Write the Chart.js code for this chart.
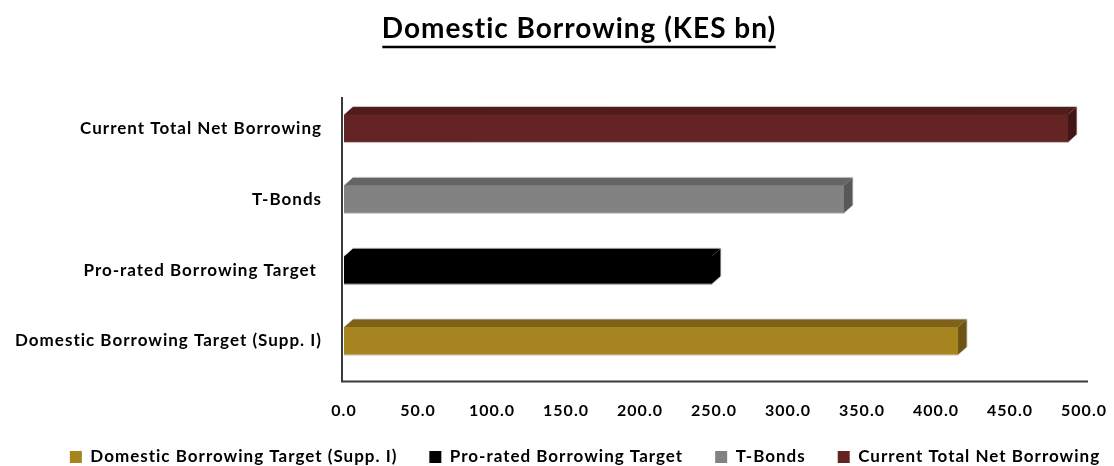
<!DOCTYPE html>
<html>
<head>
<meta charset="utf-8">
<script src="https://cdn.jsdelivr.net/npm/chart.js@4.4.1/dist/chart.umd.min.js"></script>
<style>
  html, body { margin: 0; padding: 0; background: #fff; }
  #wrap { width: 1114px; height: 466px; }
</style>
</head>
<body>
<div id="wrap"><canvas id="borrowChart" width="1114" height="466"></canvas></div>
<script>
/******************** DATA ******************/
const categories = [
  'Current Total Net Borrowing',
  'T-Bonds',
  'Pro-rated Borrowing Target ',
  'Domestic Borrowing Target (Supp. I)'
];
const seriesNames = [
  'Domestic Borrowing Target (Supp. I)',
  'Pro-rated Borrowing Target',
  'T-Bonds',
  'Current Total Net Borrowing'
];
const domesticTarget = [null, null, null, 414.9];
const proRatedTarget = [null, null, 248.6, null];
const tBonds = [null, 337.8, null, null];
const currentNet = [489.2, null, null, null];
const xTicks = [0, 50, 100, 150, 200, 250, 300, 350, 400, 450, 500];

/******************** STYLE ******************/
const FONT = 'Lato, Carlito, Calibri, sans-serif';
const TITLE_SIZE = 28;
const colors = {
  front: ['#a6841f', '#000000', '#828282', '#652424'],
  top:   ['#7f6219', '#000000', '#646464', '#511c1c'],
  side:  ['#6e5414', '#000000', '#585858', '#421616']
};
const DEPTH_X = 9;
const DEPTH_Y = 8;

/************** LETTER SPACING (Excel-like text) ***************/
const spacing = {
  id: 'spacing',
  beforeUpdate(chart) { chart.ctx.letterSpacing = '1px'; },
  beforeDraw(chart) { chart.ctx.letterSpacing = '1px'; }
};

/************** SHIFT TITLE + LEGEND ***************/
const shiftBoxes = {
  id: 'shiftBoxes',
  afterLayout(chart) {
    const t = chart.titleBlock;
    if (t) { t.left += 22; t.right += 22; }
    const l = chart.legend;
    if (l) {
      l.left += 28; l.right += 28;
      l.top -= 4; l.bottom -= 4;
    }
  }
};

/************** 3D BAR PLUGIN ***************/
const bar3d = {
  id: 'bar3d',
  afterDatasetsDraw(chart) {
    const ctx = chart.ctx;
    chart.data.datasets.forEach((ds, i) => {
      const meta = chart.getDatasetMeta(i);
      meta.data.forEach((bar, j) => {
        if (ds.data[j] == null) return;
        const p = bar.getProps(['x', 'y', 'base', 'height'], true);
        const x0 = p.base, x1 = p.x;
        const yTop = p.y - p.height / 2, yBot = p.y + p.height / 2;
        ctx.save();
        // top face
        ctx.fillStyle = colors.top[i];
        ctx.beginPath();
        ctx.moveTo(x0, yTop);
        ctx.lineTo(x0 + DEPTH_X, yTop - DEPTH_Y);
        ctx.lineTo(x1 + DEPTH_X, yTop - DEPTH_Y);
        ctx.lineTo(x1, yTop);
        ctx.closePath();
        ctx.fill();
        // side face
        ctx.fillStyle = colors.side[i];
        ctx.beginPath();
        ctx.moveTo(x1, yTop);
        ctx.lineTo(x1 + DEPTH_X, yTop - DEPTH_Y);
        ctx.lineTo(x1 + DEPTH_X, yBot - DEPTH_Y);
        ctx.lineTo(x1, yBot);
        ctx.closePath();
        ctx.fill();
        // light edges
        ctx.strokeStyle = 'rgba(215,215,215,0.85)';
        ctx.lineWidth = 1;
        ctx.beginPath();
        ctx.moveTo(x0, yTop);
        ctx.lineTo(x0 + DEPTH_X, yTop - DEPTH_Y);
        ctx.lineTo(x1 + DEPTH_X, yTop - DEPTH_Y);
        ctx.lineTo(x1 + DEPTH_X, yBot - DEPTH_Y);
        ctx.lineTo(x1, yBot);
        ctx.lineTo(x0, yBot);
        ctx.stroke();
        ctx.restore();
      });
    });
  }
};

/************** AXES + TITLE UNDERLINE ***************/
const decorations = {
  id: 'decorations',
  afterDraw(chart) {
    const ctx = chart.ctx;
    const a = chart.chartArea;
    ctx.save();
    ctx.strokeStyle = '#3a3a3a';
    ctx.lineWidth = 2;
    ctx.beginPath();
    ctx.moveTo(a.left - 2, a.top + 4);
    ctx.lineTo(a.left - 2, a.bottom + 5);
    ctx.lineTo(a.right + 4, a.bottom + 5);
    ctx.stroke();

    // underline for the title
    const t = chart.titleBlock;
    if (t) {
      ctx.letterSpacing = '1px';
      ctx.font = 'bold ' + TITLE_SIZE + 'px ' + FONT;
      const w = ctx.measureText(chart.options.plugins.title.text).width - 1;
      const cx = (t.left + t.right) / 2;
      const y = t.top + t.options.padding.top + 35;
      ctx.lineWidth = 2.5;
      ctx.strokeStyle = '#000';
      ctx.beginPath();
      ctx.moveTo(cx - w / 2, y);
      ctx.lineTo(cx + w / 2, y);
      ctx.stroke();
    }
    ctx.restore();
  }
};

/******************** CHART ******************/
const datasetValues = [domesticTarget, proRatedTarget, tBonds, currentNet];

new Chart(document.getElementById('borrowChart'), {
  type: 'bar',
  data: {
    labels: categories,
    datasets: seriesNames.map((name, i) => ({
      label: name,
      data: datasetValues[i],
      backgroundColor: colors.front[i],
      borderWidth: 0,
      barThickness: 28,
      grouped: false
    }))
  },
  options: {
    indexAxis: 'y',
    responsive: false,
    animation: false,
    layout: { padding: { left: 0, right: 0, top: 0, bottom: -13.4 } },
    plugins: {
      title: {
        display: true,
        text: 'Domestic Borrowing (KES bn)',
        color: '#000',
        font: { family: FONT, size: TITLE_SIZE, weight: 'bold' },
        padding: { top: 12, bottom: 47.4 }
      },
      legend: {
        position: 'bottom',
        labels: {
          color: '#000',
          font: { family: FONT, size: 17, weight: 'bold' },
          boxWidth: 12,
          boxHeight: 12,
          padding: 32
        }
      },
      tooltip: { enabled: false }
    },
    scales: {
      x: {
        min: 0,
        max: 500,
        afterBuildTicks: scale => { scale.ticks = xTicks.map(v => ({ value: v })); },
        afterFit: scale => {
          scale.height = 44;
          scale.paddingLeft = 0;
          scale.paddingRight = 30;
        },
        grid: { display: false, drawTicks: false },
        border: { display: false },
        ticks: {
          color: '#000',
          font: { family: FONT, size: 16, weight: 'bold' },
          padding: 24.4,
          maxRotation: 0,
          callback: v => Number(v).toFixed(1)
        }
      },
      y: {
        afterFit: scale => { scale.width = 344; },
        grid: { display: false, drawTicks: false },
        border: { display: false },
        ticks: {
          color: '#000',
          font: { family: FONT, size: 17, weight: 'bold' },
          padding: 22
        }
      }
    }
  },
  plugins: [spacing, shiftBoxes, bar3d, decorations]
});
</script>
</body>
</html>
